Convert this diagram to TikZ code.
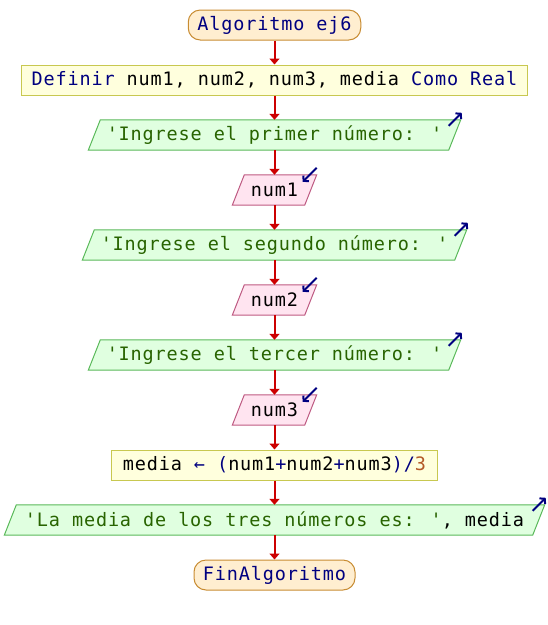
\documentclass[tikz,border=0pt]{standalone}
\usepackage{fontspec}
\usetikzlibrary{arrows.meta,backgrounds}
\newfontfamily\codefam{DejaVu Sans Mono}[Ligatures=TeXOff,LetterSpace=4.6]
\newcommand\codefont{\codefam\fontsize{18.5}{22}\selectfont\fontdimen2\font=12pt\fontdimen3\font=0pt\fontdimen4\font=0pt}
\definecolor{termfill}{RGB}{255,238,208}
\definecolor{termdraw}{RGB}{200,140,50}
\definecolor{procfill}{RGB}{255,255,221}
\definecolor{procdraw}{RGB}{200,200,80}
\definecolor{outfill}{RGB}{224,255,224}
\definecolor{outdraw}{RGB}{90,185,90}
\definecolor{infill}{RGB}{255,228,240}
\definecolor{indraw}{RGB}{190,90,130}
\definecolor{kwcol}{RGB}{0,0,128}
\definecolor{strcol}{RGB}{40,100,0}
\definecolor{numcol}{RGB}{180,90,40}
\definecolor{flowcol}{RGB}{204,0,0}
\newcommand\kwd[1]{\textcolor{kwcol}{#1}}
\newcommand\strg[1]{\textcolor{strcol}{#1}}
\newcommand\numl[1]{\textcolor{numcol}{#1}}
\newcommand\opr[1]{\textcolor{kwcol}{#1}}
\newcommand\drawpgram[2]{%
  \draw[#2] ([xshift=-6pt]#1.south west) -- ([xshift=-6pt]#1.south east)
    -- ([xshift=6pt]#1.north east) -- ([xshift=6pt]#1.north west) -- cycle;}
\newcommand\outicon[1]{%
  \draw[iconline] ([xshift=-6pt,yshift=-6pt]#1.north east) -- ([xshift=7pt,yshift=7pt]#1.north east);}
\newcommand\inicon[1]{%
  \draw[iconline] ([xshift=6pt,yshift=7pt]#1.north east) -- ([xshift=-8pt,yshift=-7pt]#1.north east);}
\tikzset{
  basebox/.style={font=\codefont, text=black, inner sep=0pt, minimum height=30pt, anchor=center},
  term/.style={basebox, draw=termdraw, fill=termfill, line width=1pt, rounded corners=12pt},
  proc/.style={basebox, draw=procdraw, fill=procfill, line width=1pt},
  iobox/.style={basebox},
  outshape/.style={draw=outdraw, fill=outfill, line width=1pt},
  inshape/.style={draw=indraw, fill=infill, line width=1pt},
  flow/.style={draw=flowcol, line width=2pt, -{Triangle[length=6pt,width=10pt]}},
  iconline/.style={draw=kwcol, line width=2pt, -{Straight Barb[length=3.5pt,width=8pt]}}
}
\begin{document}
\begin{tikzpicture}[x=1pt,y=1pt]
\useasboundingbox (0,0) rectangle (548,-625);
\node[term, minimum width=172.5] (start) at (274.5,-25) {\kwd{Algoritmo ej6}};
\node[proc, minimum width=506] (def) at (274.5,-80) {\kwd{Definir} num1, num2, num3, media \kwd{Como Real}};
\node[iobox, minimum width=360] (p1) at (274.5,-135) {\strg{'Ingrese el primer número: '}};
\node[iobox, minimum width=72] (r1) at (274.5,-190) {num1};
\node[iobox, minimum width=372] (p2) at (274.5,-245) {\strg{'Ingrese el segundo número: '}};
\node[iobox, minimum width=72] (r2) at (274.5,-300) {num2};
\node[iobox, minimum width=360] (p3) at (274.5,-355) {\strg{'Ingrese el tercer número: '}};
\node[iobox, minimum width=72] (r3) at (274.5,-410) {num3};
\node[proc, minimum width=326] (calc) at (274.5,-465) {media \opr{← (}num1\opr{+}num2\opr{+}num3\opr{)/}\numl{3}};
\node[iobox, minimum width=528] (out) at (274.5,-520) {\strg{'La media de los tres números es: '}, media};
\node[term, minimum width=161] (fin) at (274.5,-575) {\kwd{FinAlgoritmo}};
\begin{pgfonlayer}{background}
  \drawpgram{p1}{outshape}
  \drawpgram{p2}{outshape}
  \drawpgram{p3}{outshape}
  \drawpgram{out}{outshape}
  \drawpgram{r1}{inshape}
  \drawpgram{r2}{inshape}
  \drawpgram{r3}{inshape}
\end{pgfonlayer}
\outicon{p1}
\outicon{p2}
\outicon{p3}
\outicon{out}
\inicon{r1}
\inicon{r2}
\inicon{r3}
\draw[flow] (start) -- (def);
\draw[flow] (def) -- (p1);
\draw[flow] (p1) -- (r1);
\draw[flow] (r1) -- (p2);
\draw[flow] (p2) -- (r2);
\draw[flow] (r2) -- (p3);
\draw[flow] (p3) -- (r3);
\draw[flow] (r3) -- (calc);
\draw[flow] (calc) -- (out);
\draw[flow] (out) -- (fin);
\end{tikzpicture}
\end{document}
